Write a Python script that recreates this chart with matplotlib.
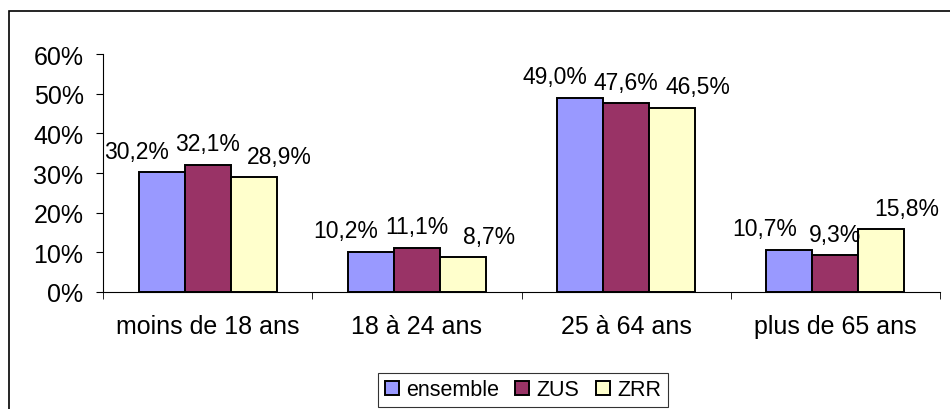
import numpy as np
import matplotlib.pyplot as plt
from matplotlib.patches import Rectangle

plt.rcParams['font.family'] = ['Liberation Sans', 'DejaVu Sans']

categories = ["moins de 18 ans", "18 à 24 ans", "25 à 64 ans", "plus de 65 ans"]
series_names = ["ensemble", "ZUS", "ZRR"]
ensemble = [30.2, 10.2, 49.0, 10.7]
zus = [32.1, 11.1, 47.6, 9.3]
zrr = [28.9, 8.7, 46.5, 15.8]
colors = ["#9999FF", "#993366", "#FFFFCC"]

fig = plt.figure(figsize=(9.5, 4.1), dpi=100)
# outer chart border (runs off the right and bottom edges)
fig.patches.append(Rectangle((9 / 950, -0.1), 1.0, 1 - 12 / 410 + 0.1,
                             transform=fig.transFigure, fill=False,
                             edgecolor="black", linewidth=1.2))

ax = fig.add_axes([103 / 950, 1 - 293 / 410, 837 / 950, 238 / 410])

x = np.arange(len(categories))
w = 0.22
# excel spreads the outer labels sideways so they do not collide
label_shift = [-18, 0, 18.5]
for k, (name, vals) in enumerate(zip(series_names, [ensemble, zus, zrr])):
    pos = x + (k - 1) * w
    ax.bar(pos, vals, width=w, color=colors[k], edgecolor="black",
           linewidth=1.4, label=name)
    for px, v in zip(pos, vals):
        ax.annotate(f"{v:.1f}%".replace(".", ","), (px, v),
                    xytext=(label_shift[k], 10.5), textcoords="offset points",
                    ha="center", va="baseline", fontsize=16.5)

ax.set_xlim(-0.5, len(categories) - 0.5)
ax.set_ylim(0, 60)
ax.set_yticks(np.arange(0, 61, 10))
ax.set_yticklabels([f"{t}%" for t in range(0, 61, 10)], fontsize=18)
ax.set_xticks(x)
ax.set_xticklabels(categories, fontsize=18)
ax.tick_params(axis="x", length=0, pad=16)
ax.set_xticks(np.arange(-0.5, len(categories)), minor=True)
ax.tick_params(axis="x", which="minor", length=5, direction="out")
ax.tick_params(axis="y", length=5, direction="out", pad=9)
for s in ["top", "right"]:
    ax.spines[s].set_visible(False)

leg = ax.legend(loc="center", bbox_to_anchor=(523 / 950, 1 - 391 / 410),
                bbox_transform=fig.transFigure, ncol=3, frameon=True,
                fancybox=False, edgecolor="black", fontsize=15.5,
                handlelength=0.65, handleheight=0.65, handletextpad=0.35,
                columnspacing=0.75, borderpad=0.3, borderaxespad=0)
leg.get_frame().set_linewidth(0.8)

fig.savefig("out.png", dpi=100)
